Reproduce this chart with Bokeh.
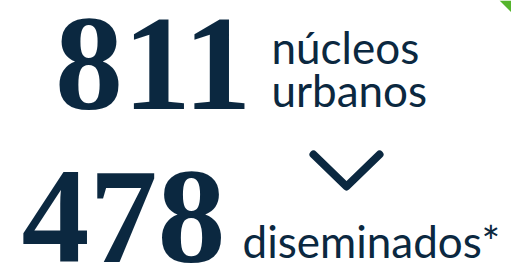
from bokeh.plotting import figure
from bokeh.models import Range1d, ColumnDataSource
from bokeh.core.properties import value
from bokeh.embed import file_html
from bokeh.resources import INLINE

# Data
counts = ["811", "478"]
labels_line1 = ["núcleos", "diseminados*"]
labels_line2 = ["urbanos", ""]

NAVY = "#0b2840"
GREEN = "#55b52d"

p = figure(width=511, height=265, output_backend="svg", toolbar_location=None,
           x_range=Range1d(0, 511), y_range=Range1d(265, 0), min_border=0)
p.axis.visible = False
p.grid.visible = False
p.outline_line_color = None
p.background_fill_color = "white"
p.border_fill_color = "white"

# big numbers
num_src = ColumnDataSource(dict(x=[251, 225], y=[64, 217], t=counts))
p.text(x="x", y="y", text="t", source=num_src, text_font=value("Liberation Serif"),
       text_font_style="bold", text_font_size="136px", text_color=NAVY,
       text_align="right", text_baseline="middle")

# labels
src1 = ColumnDataSource(dict(x=[271, 242], y=[46, 240], t=labels_line1))
p.text(x="x", y="y", text="t", source=src1, text_font=value("Lato"),
       text_font_size="44px", text_color=NAVY, text_align="left",
       text_baseline="middle")
src2 = ColumnDataSource(dict(x=[271], y=[89], t=[labels_line2[0]]))
p.text(x="x", y="y", text="t", source=src2, text_font=value("Lato"),
       text_font_size="44px", text_color=NAVY, text_align="left",
       text_baseline="middle")

# chevron
chev_x = [313, 346, 379]
chev_y = [154, 186, 154]
p.line(chev_x, chev_y, line_color=NAVY, line_width=8, line_cap="round", line_join="round")

# green corner triangle
tri_x = [499, 511, 511]
tri_y = [0, 0, 12]
p.patch(tri_x, tri_y, fill_color=GREEN, line_color=None)

open("out.html", "w").write(file_html(p, INLINE))
